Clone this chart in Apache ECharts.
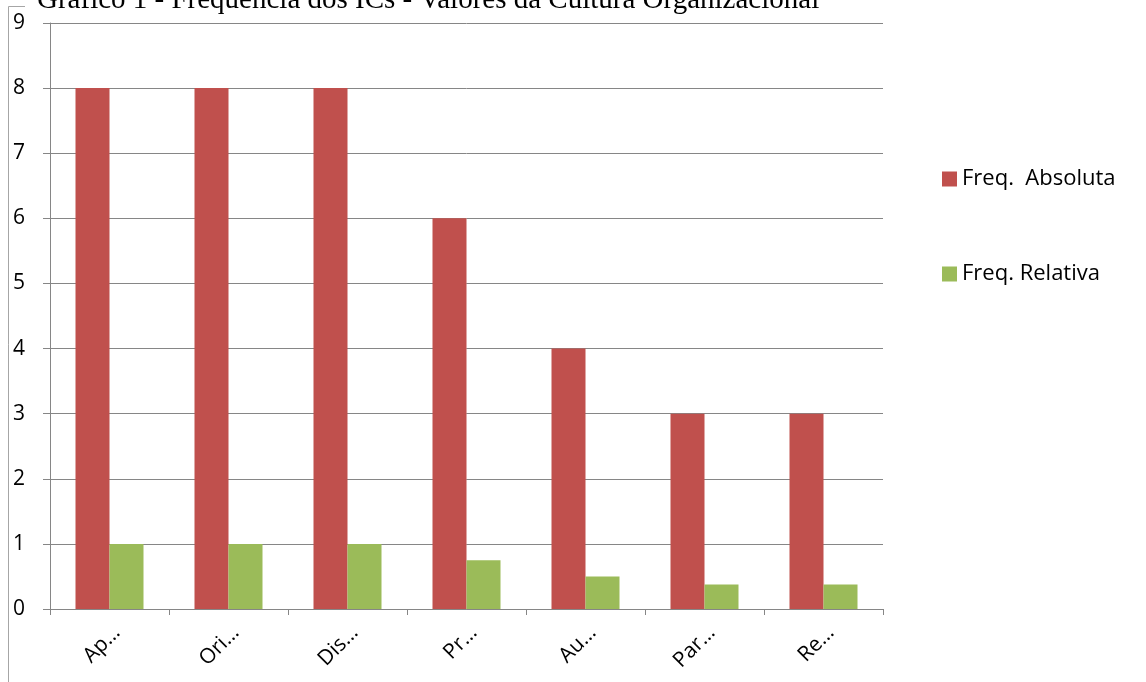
<!DOCTYPE html>
<html>
<head>
<meta charset="utf-8">
<script src="https://cdn.jsdelivr.net/npm/echarts@6/dist/echarts.min.js"></script>
<style>
  html, body { margin: 0; padding: 0; background: #fff; }
  #chart { width: 1146px; height: 682px; }
</style>
</head>
<body>
<div id="chart"></div>
<script>
// dados
const categorias = ["Ap…", "Ori…", "Dis…", "Pr…", "Au…", "Par…", "Re…"];
const freqAbsoluta = [8, 8, 8, 6, 4, 3, 3];
const freqRelativa = [1, 1, 1, 0.75, 0.5, 0.375, 0.375];
const titulo = "Gráfico 1 - Frequência dos ICs - Valores da Cultura Organizacional";

const chart = echarts.init(document.getElementById("chart"));
const fonte = "'Open Sans', 'Noto Sans', sans-serif";
const cinza = "#868686";

let option = {
  animation: false,
  title: {
    text: titulo,
    left: 32,
    top: -19,
    textStyle: {
      fontFamily: "'Liberation Serif', 'DejaVu Serif', serif",
      fontSize: 29,
      fontWeight: "normal",
      color: "#000"
    }
  },
  // moldura parcial da área do gráfico
  graphic: [
    {
      type: "polyline",
      shape: { points: [[25, 6.5], [8.5, 6.5], [8.5, 682]] },
      style: { stroke: "#a6a6a6", lineWidth: 1, fill: null }
    }
  ],
  legend: {
    orient: "vertical",
    left: 937,
    top: 163,
    itemWidth: 15,
    itemHeight: 15,
    itemGap: 73,
    icon: "rect",
    textStyle: { fontFamily: fonte, fontSize: 22, color: "#000" },
    data: ["Freq.  Absoluta", "Freq. Relativa"]
  },
  grid: {
    left: 50,
    right: 263,
    top: 23,
    bottom: 73
  },
  xAxis: {
    type: "category",
    data: categorias,
    axisLine: { lineStyle: { color: cinza, width: 1 } },
    axisTick: { show: true, length: 6, lineStyle: { color: cinza } },
    axisLabel: {
      rotate: 45,
      margin: 13,
      verticalAlign: "top",
      fontFamily: fonte,
      fontSize: 21,
      color: "#000"
    }
  },
  yAxis: {
    type: "value",
    min: 0,
    max: 9,
    interval: 1,
    axisLine: { show: true, lineStyle: { color: cinza } },
    axisTick: { show: true, length: 7, lineStyle: { color: cinza } },
    axisLabel: {
      margin: 37,
      align: "left",
      fontFamily: fonte,
      fontSize: 21,
      color: "#000"
    },
    splitLine: { lineStyle: { color: cinza, width: 1 } }
  },
  series: [
    {
      name: "Freq.  Absoluta",
      type: "bar",
      data: freqAbsoluta,
      barWidth: 34,
      barGap: "0%",
      itemStyle: { color: "#c0504d" }
    },
    {
      name: "Freq. Relativa",
      type: "bar",
      data: freqRelativa,
      barWidth: 34,
      barGap: "0%",
      itemStyle: { color: "#9bbb59" }
    }
  ]
};

chart.setOption(option, true);
</script>
</body>
</html>
